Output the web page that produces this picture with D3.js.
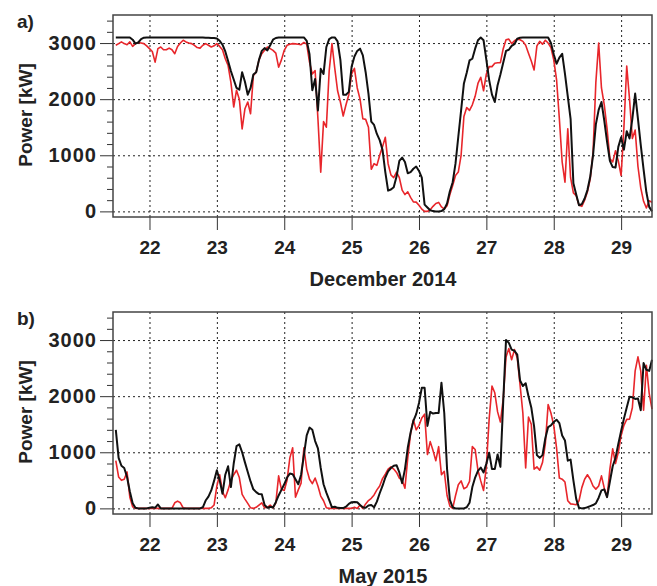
<!DOCTYPE html>
<html lang="en">
<head>
<meta charset="utf-8">
<style type="text/css">
    body { margin: 0; background: #fff; }
    svg { display: block; font-family: "Liberation Sans", Arial, Helvetica, sans-serif; }
    .grid line { stroke: #222; stroke-width: 1; stroke-dasharray: 2,3; }
    .grid path { display: none; }
    .axis path { display: none; }
    .axis line { stroke: #333; stroke-width: 1; }
    .axis text { font-size: 19px; font-weight: bold; fill: #222; }
    .yaxis text { font-size: 20px; letter-spacing: 1px; }
    .frame { fill: none; stroke: #444; stroke-width: 1.5; }
    .lbl { font-weight: bold; fill: #222; }
</style>
</head>
<body>
<div id="chart"></div>
<script src="https://cdn.jsdelivr.net/npm/d3@7"></script>
<script type="text/javascript">
    // hourly values, first value at 12:00 on the 21st (hours counted from 21st 00:00)
    var firstHour = 12;
    var dayTicks = [22, 23, 24, 25, 26, 27, 28, 29];
    var powerTicks = [0, 1000, 2000, 3000];
    var panelLabels = ["a)", "b)"];
    var monthTitles = ["December 2014", "May 2015"];

    // a) December 2014
    var decBlack = [
        3100,3100,3100,3100,3100,3100,3060,2990,3010,3070,3095,3100,
        3100,3100,3100,3100,3100,3100,3100,3100,3100,3100,3100,3100,
        3100,3100,3100,3100,3100,3100,3100,3100,3095,3095,3090,3090,
        3080,3040,2970,2850,2680,2500,2350,2200,2170,2480,2310,2080,
        2200,2440,2480,2700,2860,2910,2870,2960,3060,3090,3100,3100,
        3100,3100,3100,3100,3100,3100,3100,3100,3040,2800,2160,2360,
        1800,2540,2450,2930,3070,3100,3100,3030,2700,2080,2080,2130,
        2580,2760,2860,2900,2780,2480,2100,1600,1540,1380,1270,1100,
        700,370,390,430,620,900,960,880,680,700,760,800,
        720,600,120,70,20,5,0,0,5,40,140,360,
        520,850,1330,1800,2280,2470,2690,2720,2900,3050,3100,3050,
        2700,2340,2080,1950,2250,2440,2650,2860,2880,2950,2980,3077,
        3095,3100,3100,3100,3100,3100,3100,3100,3100,3100,3100,3000,
        2800,2630,2740,2810,2450,2050,1650,500,300,110,130,230,
        380,620,1000,1550,1810,1950,1620,1240,900,790,780,1150,
        1320,1100,1430,1300,1650,2100,1650,1180,750,340,80,0
    ];
    var decRed = [
        2960,2990,3020,2990,2970,3020,2940,2990,3010,3000,2990,2950,
        2900,2850,2660,2900,2930,2880,2880,2910,2880,2810,2940,3000,
        3050,3020,3000,2990,2960,2920,2910,2960,2990,2960,2930,2950,
        2990,2940,2880,2720,2600,2300,1860,2160,2000,1470,1830,1950,
        1740,2420,2480,2700,2810,2870,2930,2900,2870,2820,2570,2700,
        2870,2960,2980,2990,2985,2980,2970,3010,2980,2660,2450,2510,
        1650,700,1600,1500,2500,2990,2550,2150,1950,1700,1900,2080,
        2450,2550,2200,2000,1650,1640,1500,750,850,820,1000,1150,
        1320,850,650,600,700,600,380,300,350,250,170,165,
        110,40,0,0,30,90,140,160,80,45,100,300,
        460,640,700,1000,1690,1850,1800,1900,2050,2280,2390,2150,
        2450,2580,2580,2640,2650,2650,2900,3060,3070,2990,3040,3070,
        3060,3030,2960,2820,2680,2520,2950,3030,2980,3050,3000,2920,
        2700,2350,1650,880,520,1470,600,330,280,110,90,200,
        350,580,1050,2300,3000,2200,1900,1470,940,880,1080,900,
        640,1500,2590,2000,1300,1450,800,420,180,60,190,160
    ];

    // b) May 2015
    var mayBlack = [
        1400,900,760,720,560,300,90,10,0,0,0,0,
        10,20,10,70,0,0,0,0,0,0,0,0,
        0,0,0,0,0,0,0,20,140,210,320,490,
        680,500,260,600,750,380,800,1110,1140,1000,820,650,
        480,340,290,255,250,60,10,30,15,110,230,330,
        430,550,620,610,520,430,600,950,1300,1440,1400,1200,
        1070,720,430,280,150,20,30,10,5,5,30,80,
        110,115,110,60,20,10,50,60,20,120,270,400,
        550,660,720,760,770,640,450,700,1080,1350,1560,1680,
        1880,2150,2150,1470,1720,1690,1700,1700,2240,1700,700,150,
        20,0,0,0,0,20,100,380,550,669,728,640,
        800,990,700,700,960,740,1900,3000,2950,2830,2810,2740,
        2280,2180,2230,2000,1800,1460,950,900,950,1250,1450,1480,
        1540,1580,1520,1300,1210,850,870,500,170,10,0,5,
        20,40,60,90,190,320,340,200,480,750,900,1150,
        1380,1600,1800,1990,1980,1950,1960,1750,2590,2470,2450,2650
    ];
    var mayRed = [
        850,560,500,520,650,200,30,0,0,0,0,0,
        0,0,0,0,0,0,0,0,0,100,130,100,
        10,0,0,0,0,0,0,0,0,0,10,60,
        400,600,300,190,330,500,600,680,550,250,166,90,
        10,0,20,60,100,10,20,60,10,100,580,340,
        320,500,900,1080,200,330,450,1080,700,520,440,540,
        400,220,136,10,0,0,0,0,0,0,0,0,
        0,20,0,60,0,80,140,180,240,330,400,530,
        610,700,740,700,640,540,500,360,900,1330,1580,1400,
        1480,1610,1680,960,1190,1030,850,1100,600,660,230,40,
        0,225,420,490,350,380,480,1100,1050,680,490,320,
        750,1600,2180,2060,1720,1540,1950,2700,2850,2650,2830,2680,
        2200,1700,720,1630,1500,700,740,680,820,1150,1850,1700,
        1480,1080,540,521,470,136,80,75,65,136,370,520,
        600,520,400,343,400,580,360,200,700,1060,800,1000,
        1300,1480,1587,1590,1794,2450,2700,2445,1750,2550,2050,1770
    ];

    var width = 657, height = 586;
    var left = 113, right = 652;

    var svg = d3.select("#chart").append("svg")
        .attr("width", width)
        .attr("height", height);

    var x = d3.scaleLinear().domain([11, 203]).range([left, right]);
    var dayHours = dayTicks.map(function (d) { return (d - 21) * 24; });

    function drawPanel(p) {
        var y = d3.scaleLinear().domain([-100, 3500]).range([p.bottom, p.top]);
        var g = svg.append("g");

        // dotted grid
        g.append("g").attr("class", "grid")
            .attr("transform", "translate(0," + p.bottom + ")")
            .call(d3.axisBottom(x).tickValues(dayHours)
                .tickSize(-(p.bottom - p.top)).tickFormat(""));
        g.append("g").attr("class", "grid")
            .attr("transform", "translate(" + left + ",0)")
            .call(d3.axisLeft(y).tickValues(powerTicks).tickSize(-(right - left)).tickFormat(""));

        // axes
        g.append("g").attr("class", "axis")
            .attr("transform", "translate(0," + p.bottom + ")")
            .call(d3.axisBottom(x).tickValues(dayHours)
                .tickSize(13).tickPadding(11)
                .tickFormat(function (h) { return 21 + h / 24; }));
        g.append("g").attr("class", "axis")
            .attr("transform", "translate(" + left + ",0)")
            .call(d3.axisLeft(y).tickValues(d3.range(200, 3500, 200).filter(function (v) { return v % 1000; }))
                .tickSize(6).tickFormat(""));
        g.append("g").attr("class", "axis yaxis")
            .attr("transform", "translate(" + left + ",0)")
            .call(d3.axisLeft(y).tickValues(powerTicks).tickSize(13).tickPadding(3)
                .tickFormat(d3.format("d")));
        g.selectAll(".axis").attr("font-family", null).attr("font-size", null);

        // lines
        var line = d3.line()
            .x(function (d, i) { return x(firstHour + i); })
            .y(function (d) { return y(d); });
        g.append("path").datum(p.red)
            .attr("d", line).attr("fill", "none")
            .attr("stroke", "#e8262b").attr("stroke-width", 1.6).attr("stroke-linejoin", "round");
        g.append("path").datum(p.black)
            .attr("d", line).attr("fill", "none")
            .attr("stroke", "#111").attr("stroke-width", 2).attr("stroke-linejoin", "round");

        g.append("rect").attr("class", "frame")
            .attr("x", left).attr("y", p.top)
            .attr("width", right - left).attr("height", p.bottom - p.top);

        // labels
        g.append("text").attr("class", "lbl")
            .attr("x", 17).attr("y", p.top + 13)
            .style("font-size", "19px").text(p.label);
        g.append("text").attr("class", "lbl")
            .attr("transform", "translate(32," + (p.top + 100) + ") rotate(-90)")
            .attr("text-anchor", "middle")
            .style("font-size", "19px").text("Power [kW]");
        g.append("text").attr("class", "lbl")
            .attr("x", 383).attr("y", p.bottom + 69)
            .attr("text-anchor", "middle")
            .style("font-size", "20px").text(p.title);
    }

    drawPanel({top: 15, bottom: 217, label: panelLabels[0], title: monthTitles[0], black: decBlack, red: decRed});
    drawPanel({top: 312, bottom: 514, label: panelLabels[1], title: monthTitles[1], black: mayBlack, red: mayRed});
</script>
</body>
</html>
